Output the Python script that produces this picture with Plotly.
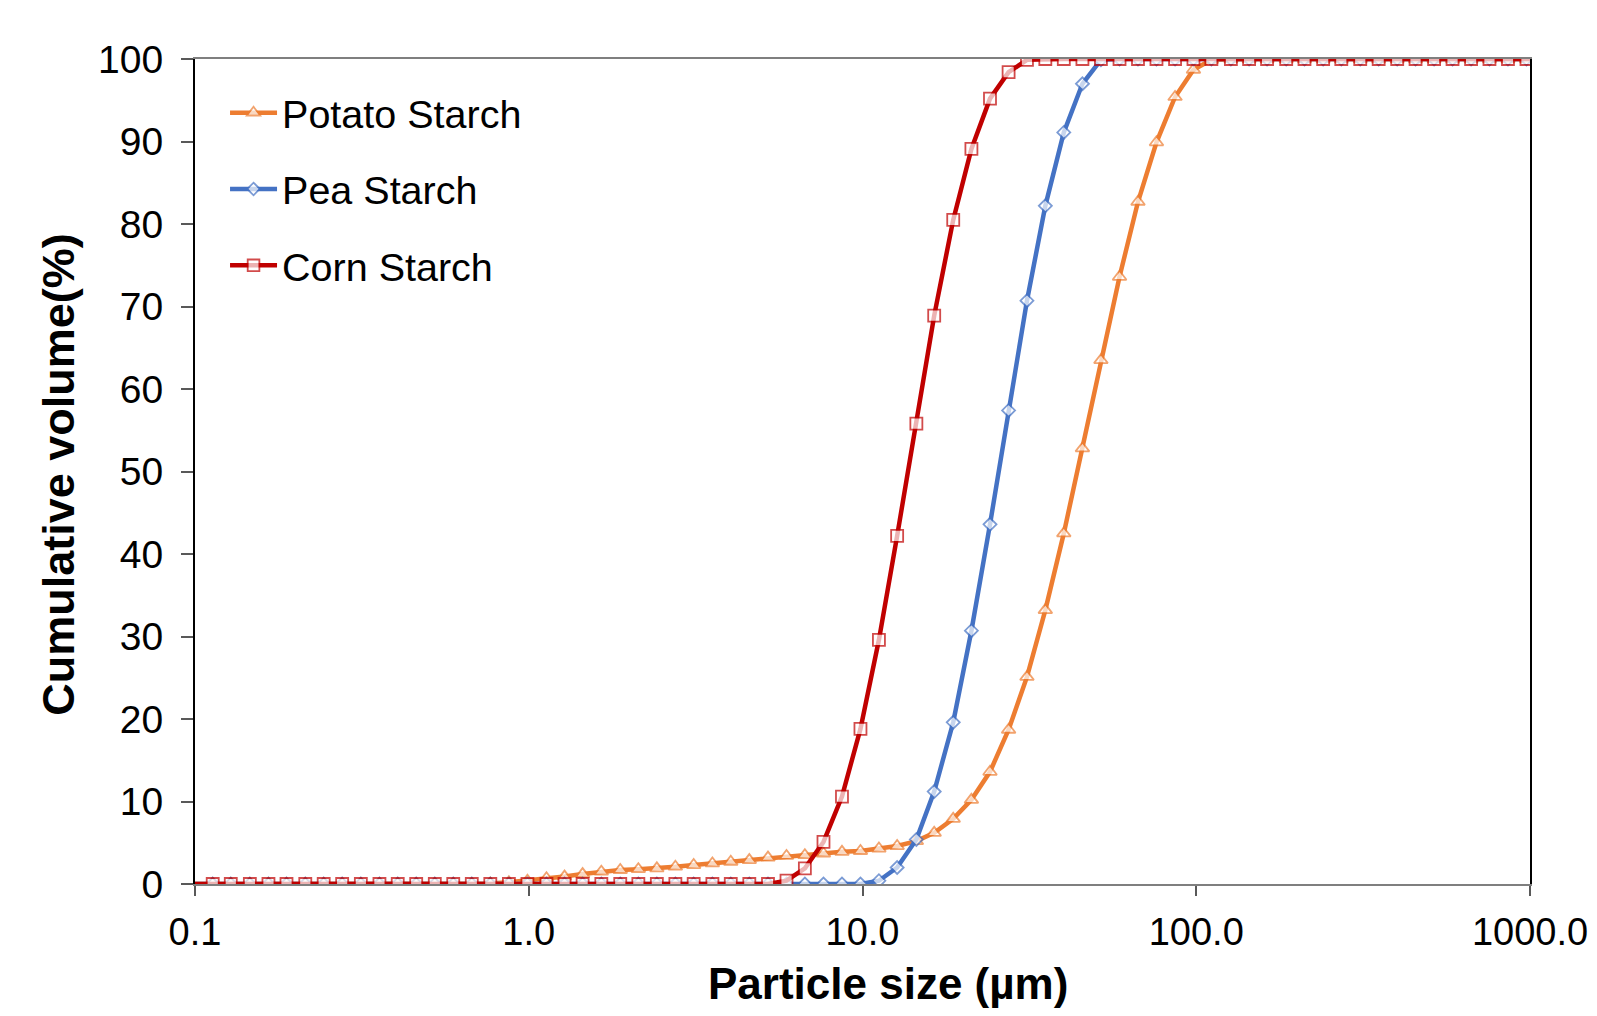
import plotly.graph_objects as go

# Particle size classes (µm)
sizes = [0.0995, 0.113, 0.128, 0.146, 0.166, 0.188, 0.214, 0.243, 0.276, 0.314,
         0.357, 0.405, 0.46, 0.523, 0.594, 0.675, 0.767, 0.872, 0.991, 1.13,
         1.28, 1.45, 1.65, 1.88, 2.13, 2.42, 2.75, 3.12, 3.55, 4.03,
         4.58, 5.21, 5.92, 6.72, 7.64, 8.68, 9.86, 11.2, 12.7, 14.5,
         16.4, 18.7, 21.2, 24.1, 27.4, 31.1, 35.3, 40.1, 45.6, 51.8,
         58.9, 66.9, 76.0, 86.4, 98.1, 111, 127, 144, 163, 186,
         211, 240, 272, 310, 352, 400, 454, 516, 586, 666,
         756, 859, 976, 1110]

potato = [0, 0, 0, 0, 0, 0, 0, 0, 0, 0,
          0, 0, 0, 0, 0, 0, 0.05, 0.2, 0.4, 0.7,
          0.9, 1.2, 1.5, 1.7, 1.8, 1.9, 2.1, 2.3, 2.5, 2.7,
          2.9, 3.2, 3.4, 3.5, 3.7, 3.9, 4.0, 4.3, 4.6, 5.2,
          6.2, 7.9, 10.2, 13.6, 18.7, 25.1, 33.2, 42.5, 52.8, 63.5,
          73.6, 82.7, 89.9, 95.4, 98.7, 99.9, 100, 100, 100, 100,
          100, 100, 100, 100, 100, 100, 100, 100, 100, 100,
          100, 100, 100, 100]

pea = [0, 0, 0, 0, 0, 0, 0, 0, 0, 0,
       0, 0, 0, 0, 0, 0, 0, 0, 0, 0,
       0, 0, 0, 0, 0, 0, 0, 0, 0, 0,
       0, 0, 0, 0, 0, 0, 0, 0.4, 2.0, 5.4,
       11.2, 19.6, 30.7, 43.6, 57.4, 70.7, 82.2, 91.1, 97.0, 99.9,
       100, 100, 100, 100, 100, 100, 100, 100, 100, 100,
       100, 100, 100, 100, 100, 100, 100, 100, 100, 100,
       100, 100, 100, 100]

corn = [0, 0, 0, 0, 0, 0, 0, 0, 0, 0,
        0, 0, 0, 0, 0, 0, 0, 0, 0, 0,
        0, 0, 0, 0, 0, 0, 0, 0, 0, 0,
        0, 0, 0.4, 1.9, 5.1, 10.6, 18.8, 29.6, 42.2, 55.8,
        68.9, 80.5, 89.1, 95.2, 98.4, 99.9, 100, 100, 100, 100,
        100, 100, 100, 100, 100, 100, 100, 100, 100, 100,
        100, 100, 100, 100, 100, 100, 100, 100, 100, 100,
        100, 100, 100, 100]

series_names = ["Potato Starch", "Pea Starch", "Corn Starch"]
x_tickvals = [0.1, 1, 10, 100, 1000]
x_ticktext = ["0.1", "1.0", "10.0", "100.0", "1000.0"]

FONT = "Liberation Sans, Arial, sans-serif"

def msizes(base):
    # hide markers whose centre lies outside the visible x range (as Excel does)
    return [base if 0.1 <= s <= 1000 else 0 for s in sizes]

styles = [
    dict(color="#ED7D31", symbol="triangle-up", size=12),
    dict(color="#4472C4", symbol="diamond", size=10),
    dict(color="#C00000", symbol="square", size=12),
]

fig = go.Figure()
for i, (name, vals, st) in enumerate(zip(series_names, [potato, pea, corn], styles)):
    fig.add_trace(go.Scatter(
        x=sizes, y=vals, name=name, mode="lines+markers",
        legendgroup=f"g{i}",
        line=dict(color=st["color"], width=4.5),
        marker=dict(symbol=st["symbol"], size=msizes(st["size"]), color="white",
                    line=dict(color=st["color"], width=1.8)),
    ))

fig.update_layout(
    width=1581, height=1000, autosize=False,
    margin=dict(l=187, r=59, t=51, b=124, autoexpand=False),
    paper_bgcolor="white", plot_bgcolor="white",
    font=dict(family=FONT, color="black", size=38),
    showlegend=True,
    legend=dict(x=0.0225, y=0.974, xanchor="left", yanchor="top",
                bgcolor="rgba(0,0,0,0)", font=dict(size=39.5, family=FONT),
                tracegroupgap=22, itemwidth=47),
    xaxis=dict(type="log", range=[-1, 3], tickvals=x_tickvals, ticktext=x_ticktext,
               showgrid=False, zeroline=False, showline=True, linecolor="#7f7f7f",
               linewidth=1.5, mirror=True, ticks="outside", ticklen=10,
               tickcolor="#595959", tickwidth=1.5, ticklabelstandoff=4,
               ticklabeloverflow="allow", automargin=False,
               tickfont=dict(size=38, family=FONT)),
    yaxis=dict(range=[0, 100], dtick=10, showgrid=False, zeroline=False,
               showline=True, linecolor="black", linewidth=2, mirror=True,
               ticks="outside", ticklen=12, tickcolor="#595959", tickwidth=1.5,
               ticklabelstandoff=10, automargin=False,
               tickfont=dict(size=39, family=FONT)),
    annotations=[
        dict(text="<b>Particle size (µm)</b>", xref="paper", yref="paper",
             x=0.519, y=-0.12, xanchor="center", yanchor="middle",
             showarrow=False, font=dict(size=44, family=FONT)),
        dict(text="<b>Cumulative volume(%)</b>", xref="paper", yref="paper",
             x=-0.102, y=0.497, xanchor="center", yanchor="middle", textangle=-90,
             showarrow=False, font=dict(size=45, family=FONT)),
    ],
)

fig.write_html("out.html")
